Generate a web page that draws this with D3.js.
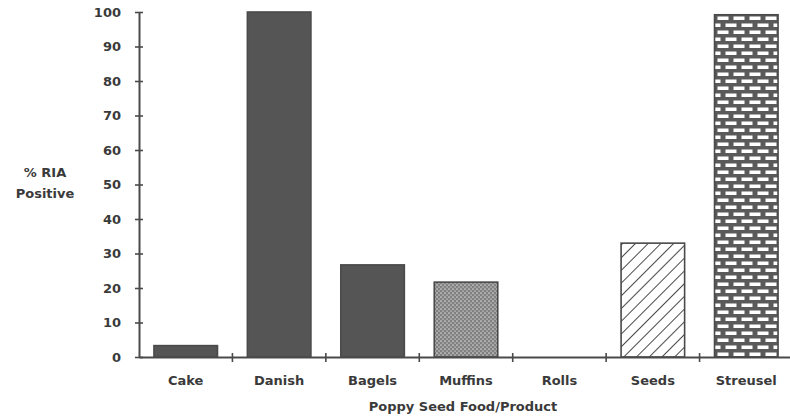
<!DOCTYPE html>
<html><head><meta charset="utf-8">
<script src="https://cdn.jsdelivr.net/npm/d3@7"></script>
<style>body{margin:0;background:#fff}svg{display:block}text{font-family:"DejaVu Sans",sans-serif;font-weight:bold;fill:#3a3a3a}</style>
</head><body><svg id="c" width="790" height="420"></svg>
<script>
const categories = ["Cake","Danish","Bagels","Muffins","Rolls","Seeds","Streusel"];
const values = [3.3, 100, 26.7, 21.7, 0, 33, 99.2];
const fills = ["solid","solid","solid","dots","solid","hatch","brick"];
const yTicks = [0,10,20,30,40,50,60,70,80,90,100];

const svg = d3.select("#c");
const ink = "#4a4a4a";
const defs = svg.append("defs");
// dots
const pd = defs.append("pattern").attr("id","dots").attr("patternUnits","userSpaceOnUse").attr("width",4).attr("height",4);
pd.append("rect").attr("width",4).attr("height",4).attr("fill","#808080");
pd.append("circle").attr("cx",1).attr("cy",1).attr("r",0.85).attr("fill","#d4d4d4");
pd.append("circle").attr("cx",3).attr("cy",3).attr("r",0.85).attr("fill","#c4c4c4");
// hatch
const ph = defs.append("pattern").attr("id","hatch").attr("patternUnits","userSpaceOnUse").attr("width",9).attr("height",9).attr("patternTransform","rotate(45)");
ph.append("rect").attr("width",9).attr("height",9).attr("fill","#fff");
ph.append("line").attr("x1",0).attr("y1",0).attr("x2",0).attr("y2",9).attr("stroke",ink).attr("stroke-width",2);
// brick
const pb = defs.append("pattern").attr("id","brick").attr("patternUnits","userSpaceOnUse").attr("width",16).attr("height",14).attr("x",715).attr("y",14);
pb.append("rect").attr("width",16).attr("height",14).attr("fill","#5a5a5a");
pb.append("rect").attr("x",2.5).attr("y",2.5).attr("width",11).attr("height",3.5).attr("fill","#fff");
pb.append("rect").attr("x",-5.5).attr("y",9.5).attr("width",11).attr("height",3.5).attr("fill","#fff");
pb.append("rect").attr("x",10.5).attr("y",9.5).attr("width",11).attr("height",3.5).attr("fill","#fff");

const x = d3.scaleBand().domain(categories).range([139, 793]).padding(0);
const y = d3.scaleLinear().domain([0,100]).range([357, 12]);
const bw = x.bandwidth()*0.68;

// bars
svg.selectAll("rect.bar").data(categories).join("rect").attr("class","bar")
  .attr("x", d => x(d) + x.bandwidth()/2 - bw/2)
  .attr("y", (d,i) => y(values[i]))
  .attr("width", bw)
  .attr("height", (d,i) => y(0) - y(values[i]))
  .attr("fill", (d,i) => fills[i]==="solid" ? "#555" : `url(#${fills[i]})`)
  .attr("stroke", (d,i)=> values[i] > 0 ? ink : "none")
  .attr("stroke-width", 1.6);

// y axis
const ya = svg.append("g").attr("transform","translate(139,0)")
  .call(d3.axisLeft(y).tickValues(yTicks).tickSize(4).tickPadding(14).tickSizeOuter(0));
ya.select(".domain").attr("stroke",ink).attr("stroke-width",2);
ya.selectAll(".tick line").attr("x1",-4).attr("x2",4).attr("stroke",ink).attr("stroke-width",1.6);
ya.selectAll(".tick text").attr("font-size",13).attr("font-family","DejaVu Sans").attr("font-weight","bold").attr("fill","#3a3a3a");

// x axis
const xa = svg.append("g").attr("transform","translate(0,357)")
  .call(d3.axisBottom(x).tickSize(0).tickPadding(19).tickSizeOuter(0));
xa.select(".domain").attr("stroke",ink).attr("stroke-width",2);
xa.selectAll(".tick text").attr("font-size",13).attr("font-family","DejaVu Sans").attr("font-weight","bold").attr("fill","#3a3a3a");
// separator ticks between bands
svg.selectAll("line.sep").data(categories.slice(1)).join("line").attr("class","sep")
  .attr("x1", d => x(d)).attr("x2", d => x(d))
  .attr("y1", 353).attr("y2", 362).attr("stroke",ink).attr("stroke-width",1.6);

// axis titles
svg.append("text").attr("x",463).attr("y",411).attr("text-anchor","middle").attr("font-size",13).text("Poppy Seed Food/Product");
svg.append("text").attr("x",45).attr("y",177).attr("text-anchor","middle").attr("font-size",13).text("% RIA");
svg.append("text").attr("x",45).attr("y",198).attr("text-anchor","middle").attr("font-size",13).text("Positive");
</script></body></html>
